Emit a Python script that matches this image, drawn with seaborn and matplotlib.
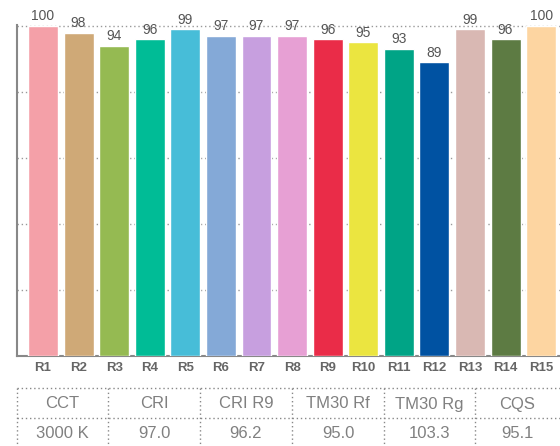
import seaborn as sns
import matplotlib.pyplot as plt
import pandas as pd

# bar values R1..R15
names = ['R1', 'R2', 'R3', 'R4', 'R5', 'R6', 'R7', 'R8', 'R9', 'R10',
         'R11', 'R12', 'R13', 'R14', 'R15']
values = [100, 98, 94, 96, 99, 97, 97, 97, 96, 95, 93, 89, 99, 96, 100]
colors = ['#F4A0A8', '#CFA977', '#95BA52', '#00BC96', '#47BDD8', '#84A9D7',
          '#C79FDF', '#E7A0D4', '#EA2C48', '#EBE540', '#00A486', '#0052A2',
          '#D9B8B3', '#5D7B43', '#FDD5A1']

# summary table
headers = ['CCT', 'CRI', 'CRI R9', 'TM30 Rf', 'TM30 Rg', 'CQS']
cells = ['3000 K', '97.0', '96.2', '95.0', '103.3', '95.1']

sns.set_style('white')
plt.rcParams['font.family'] = ['Liberation Sans', 'DejaVu Sans']

df = pd.DataFrame({'name': names, 'value': values})

W, H = 560, 446
fig = plt.figure(figsize=(W / 100, H / 100), dpi=100)
ax = fig.add_axes([17 / W, 1 - 356 / H, (W - 17) / W, 331 / H])

sns.barplot(data=df, x='name', y='value', hue='name', palette=colors,
            legend=False, width=0.84, saturation=1, ax=ax, zorder=3)

ax.set_xlim(-0.73, 14.53)
ax.set_ylim(0, 100.3)
ax.set_yticks([20, 40, 60, 80, 100])
ax.set_yticklabels([])
ax.tick_params(axis='y', length=0)
ax.tick_params(axis='x', length=0, pad=4)
ax.yaxis.grid(True, color='#999999', linestyle=(0, (1, 2)), linewidth=1, zorder=0)
ax.set_xlabel('')
ax.set_ylabel('')
for lab in ax.get_xticklabels():
    lab.set_fontweight('bold')
    lab.set_color('#666666')
    lab.set_fontsize(9.5)

for s in ['top', 'right']:
    ax.spines[s].set_visible(False)
for s in ['left', 'bottom']:
    ax.spines[s].set_color('#888888')
    ax.spines[s].set_linewidth(1.5)

for i, v in enumerate(values):
    ax.text(i, v + 0.8, str(v), ha='center', va='bottom', fontsize=10,
            color='#555555', clip_on=False)

# table below the chart
col_x = [17, 108, 200, 292, 384, 475, 560]
row_y = [388, 418, 446]
dot = dict(color='#888888', linestyle=(0, (1, 2)), linewidth=1)
for y in row_y[:2]:
    fig.add_artist(plt.Line2D([17 / W, 1], [1 - y / H, 1 - y / H], **dot))
for x in col_x[:-1]:
    fig.add_artist(plt.Line2D([x / W, x / W], [1 - row_y[0] / H, 0], **dot))
for j in range(len(headers)):
    cx = (col_x[j] + col_x[j + 1]) / 2 / W
    fig.text(cx, 1 - 404 / H, headers[j], ha='center', va='center',
             fontsize=12, color='#808080')
    fig.text(cx, 1 - 433 / H, cells[j], ha='center', va='center',
             fontsize=12, color='#808080')

fig.savefig('out.png', dpi=100)
